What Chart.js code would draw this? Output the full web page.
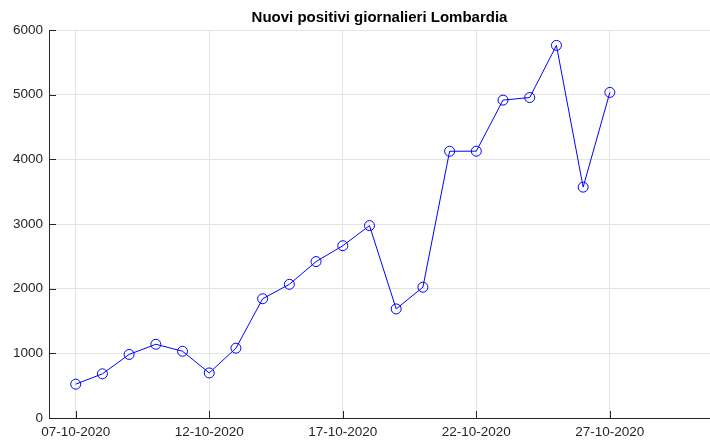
<!DOCTYPE html>
<html>
<head>
<meta charset="utf-8">
<script src="https://cdn.jsdelivr.net/npm/chart.js@4"></script>
<style>
  html, body { margin: 0; padding: 0; background: #fff; }
  #wrap { width: 710px; height: 442px; }
</style>
</head>
<body>
<div id="wrap"><canvas id="chart"></canvas></div>
<script>
// day labels, one per point
const days = [
  "07-10-2020", "08-10-2020", "09-10-2020", "10-10-2020", "11-10-2020",
  "12-10-2020", "13-10-2020", "14-10-2020", "15-10-2020", "16-10-2020",
  "17-10-2020", "18-10-2020", "19-10-2020", "20-10-2020", "21-10-2020",
  "22-10-2020", "23-10-2020", "24-10-2020", "25-10-2020", "26-10-2020",
  "27-10-2020"
];
const newPositives = [
  523, 683, 983, 1140, 1032, 697, 1080, 1844, 2067, 2419,
  2664, 2975, 1687, 2023, 4125, 4126, 4916, 4956, 5762, 3570, 5035
];
const xTickDays = ["07-10-2020", "12-10-2020", "17-10-2020", "22-10-2020", "27-10-2020"];
const yTicks = [0, 1000, 2000, 3000, 4000, 5000, 6000];

const axisColor = "#262626";
const gridColor = "#e3e3e3";
const font = { family: "'Liberation Sans', Arial, sans-serif", size: 13.5 };

const points = newPositives.map((v, i) => ({ x: i, y: v }));

// MATLAB style ticks pointing into the plot
const innerTicks = {
  id: "innerTicks",
  afterDatasetsDraw(chart) {
    const { ctx, chartArea, scales } = chart;
    ctx.save();
    ctx.strokeStyle = axisColor;
    ctx.lineWidth = 1;
    ctx.beginPath();
    scales.x.ticks.forEach(t => {
      const px = Math.round(scales.x.getPixelForValue(t.value)) + 0.5;
      ctx.moveTo(px, chartArea.bottom);
      ctx.lineTo(px, chartArea.bottom - 7);
    });
    scales.y.ticks.forEach(t => {
      const py = Math.round(scales.y.getPixelForValue(t.value)) + 0.5;
      ctx.moveTo(chartArea.left, py);
      ctx.lineTo(chartArea.left + 7, py);
    });
    ctx.stroke();
    ctx.restore();
  }
};

new Chart(document.getElementById("chart"), {
  type: "line",
  data: {
    datasets: [{
      label: "Nuovi positivi",
      data: points,
      borderColor: "#0000ff",
      borderWidth: 1,
      pointStyle: "circle",
      pointRadius: 5,
      pointBorderWidth: 1,
      pointBorderColor: "#0000ff",
      pointBackgroundColor: "rgba(0,0,0,0)",
      tension: 0
    }]
  },
  options: {
    responsive: true,
    maintainAspectRatio: false,
    animation: false,
    layout: { padding: 0, autoPadding: false },
    plugins: {
      legend: { display: false },
      tooltip: { enabled: false },
      title: {
        display: true,
        text: "Nuovi positivi giornalieri Lombardia",
        color: "#000",
        fullSize: false,
        font: { family: font.family, size: 15, weight: "bold" },
        padding: { top: 9, bottom: 3 }
      }
    },
    scales: {
      x: {
        type: "linear",
        min: -1,
        max: 23.75,
        afterBuildTicks: s => { s.ticks = xTickDays.map(d => ({ value: days.indexOf(d) })); },
        afterFit: s => { s.height = 24; s.paddingLeft = 0; s.paddingRight = 0; },
        ticks: {
          color: axisColor,
          font,
          padding: 6,
          maxRotation: 0,
          callback: v => days[v]
        },
        grid: { color: gridColor, tickLength: 0 },
        border: { display: true, color: axisColor, width: 1 }
      },
      y: {
        min: 0,
        max: 6000,
        afterBuildTicks: s => { s.ticks = yTicks.map(v => ({ value: v })); },
        afterFit: s => { s.width = 49; s.paddingTop = 0; s.paddingBottom = 0; },
        ticks: { color: axisColor, font, padding: 6, callback: v => String(v) },
        grid: { color: gridColor, tickLength: 0 },
        border: { display: true, color: axisColor, width: 1 }
      }
    }
  },
  plugins: [innerTicks]
});
</script>
</body>
</html>
